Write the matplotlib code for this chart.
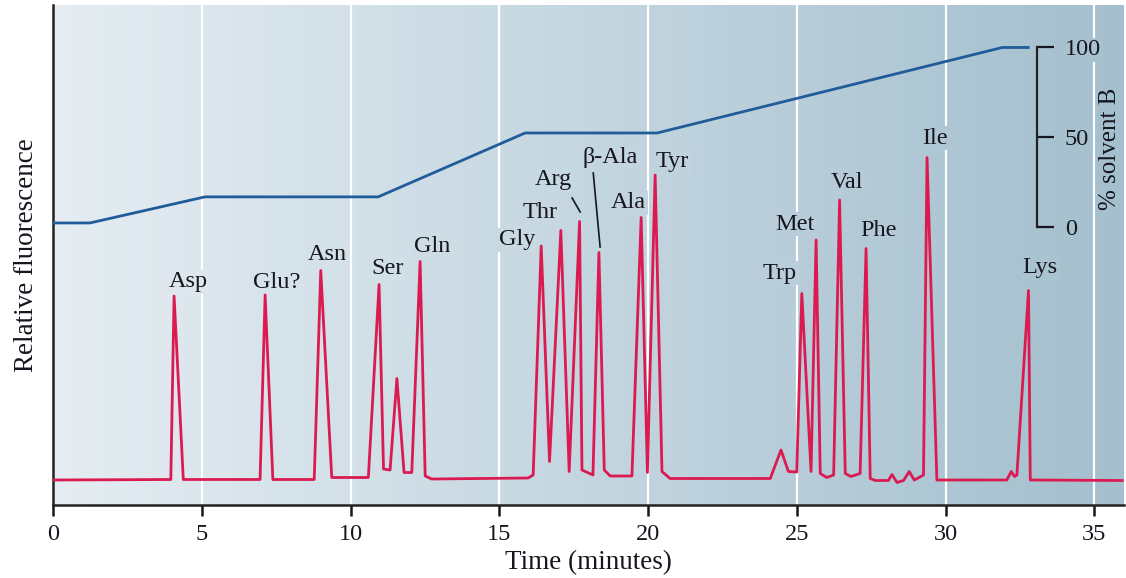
import numpy as np
import matplotlib.pyplot as plt
from matplotlib.colors import LinearSegmentedColormap

plt.rcParams['font.family'] = ['Liberation Serif', 'DejaVu Serif']

# fluorescence trace (minutes, arbitrary units)
trace_time = [0, 3.96, 4.07, 4.38, 6.96, 7.13, 7.39, 8.78, 9.00, 9.37,
              10.60, 10.96, 11.11, 11.33, 11.56, 11.80, 12.06, 12.34, 12.51, 12.73,
              15.97, 16.14, 16.41, 16.69, 17.07, 17.35, 17.70, 17.78, 18.15, 18.35,
              18.53, 18.73, 19.46, 19.77, 19.98, 20.24, 20.47, 20.74, 24.11, 24.47,
              24.72, 25.00, 25.17, 25.48, 25.65, 25.79, 26.01, 26.24, 26.44, 26.63,
              26.82, 27.13, 27.33, 27.47, 27.64, 28.08, 28.20, 28.37, 28.59, 28.78,
              28.95, 29.26, 29.38, 29.71, 32.06, 32.21, 32.32, 32.40, 32.79, 32.85,
              35.94]
trace_signal = [0, 0.1, 36.8, 0.1, 0.1, 37.0, 0.1, 0.1, 41.9, 0.5,
                0.5, 39.1, 2.2, 2.0, 20.3, 1.5, 1.5, 43.7, 0.8, 0.2,
                0.4, 1.0, 46.8, 3.7, 49.9, 1.7, 51.7, 2.0, 1.0, 45.5,
                2.0, 0.8, 0.8, 52.5, 1.5, 61.0, 1.7, 0.3, 0.3, 6.0,
                1.7, 1.6, 37.3, 1.7, 48.0, 1.3, 0.5, 1.0, 56.0, 1.3,
                0.7, 1.3, 46.3, 0.3, -0.1, -0.1, 1.1, -0.5, -0.1, 1.7,
                0.0, 1.0, 64.5, 0.0, 0.0, 1.7, 0.7, 1.0, 37.9, 0.0,
                -0.1]

# solvent B gradient program
solvent_time = [0, 1.24, 5.11, 10.93, 15.87, 20.31, 31.91, 32.78]
solvent_pct = [2.5, 2.5, 17, 17, 52.5, 52.5, 100, 100]

# peak names and where their labels sit
peak_names = ['Asp', 'Glu?', 'Asn', 'Ser', 'Gln', 'Gly', 'Thr', 'Arg', 'β-Ala',
              'Ala', 'Tyr', 'Trp', 'Met', 'Val', 'Phe', 'Ile', 'Lys']
label_x = [4.54, 7.53, 9.21, 11.23, 12.74, 15.60, 16.37, 16.81, 18.73,
           19.33, 20.81, 24.41, 24.95, 26.70, 27.74, 29.65, 33.18]
label_y = [39.6, 39.6, 45.0, 42.4, 46.6, 48.0, 53.4, 60.0, 64.4,
           55.4, 63.6, 41.4, 51.2, 59.6, 50.0, 68.4, 42.4]

xmax = 36.0
text_col = '#16161f'
bg_cmap = LinearSegmentedColormap.from_list('bg', ['#e5edf2', '#c4d6e0', '#a4bfce'])

def bg_at(t):
    return bg_cmap(t / xmax)

fig = plt.figure(figsize=(11.26, 5.78), dpi=100)
ax = fig.add_axes([53 / 1126, 1 - 505 / 578, (1124 - 53) / 1126, 500 / 578])

# gradient background
ax.imshow(np.linspace(0, 1, 256).reshape(1, -1), extent=[0, xmax, -5, 95],
          aspect='auto', cmap=bg_cmap, zorder=0)

for t in range(5, 36, 5):
    ax.axvline(t, color='white', lw=1.6, zorder=1)

ax.plot(trace_time, trace_signal, color='#dc1a52', lw=2.0, zorder=3)

for name, x, y in zip(peak_names, label_x, label_y):
    ax.text(x, y, name, ha='center', va='center', fontsize=17.5, color=text_col,
            zorder=2, bbox=dict(boxstyle='square,pad=0.08', fc=bg_at(x), ec='none'))

# leader lines for Arg and beta-Ala
ax.plot([17.45, 17.72], [56.4, 53.6], color=text_col, lw=1.2, zorder=3)
ax.plot([18.16, 18.39], [61.4, 46.6], color=text_col, lw=1.2, zorder=3)

ax.set_xlim(0, xmax)
ax.set_ylim(-5, 95)
ax.set_yticks([])
ax.set_xticks(range(0, 36, 5))
ax.tick_params(axis='x', direction='out', length=8, width=1.8, pad=6,
               labelsize=17.5, colors=text_col)
for side in ['top', 'right']:
    ax.spines[side].set_visible(False)
for side in ['left', 'bottom']:
    ax.spines[side].set_linewidth(1.8)
    ax.spines[side].set_color('#222222')
ax.set_xlabel('Time (minutes)', fontsize=19.5, color=text_col, labelpad=3)
ax.set_ylabel('Relative fluorescence', fontsize=19.5, color=text_col, labelpad=10)

# solvent B on its own scale, drawn inside the plot
ax2 = ax.twinx()
ax2.plot(solvent_time, solvent_pct, color='#1f5c99', lw=2.0)
ax2.set_ylim(-154.2, 123.6)
for side in ['top', 'left', 'bottom']:
    ax2.spines[side].set_visible(False)
ax2.spines['right'].set_position(('data', 33.08))
ax2.spines['right'].set_bounds(0, 100)
ax2.spines['right'].set_linewidth(1.6)
ax2.spines['right'].set_color('#222222')
ax2.set_yticks([0, 50, 100])
ax2.tick_params(axis='y', direction='out', length=12, width=1.6, pad=8,
                labelsize=17.5, colors=text_col)
for lbl in ax2.get_yticklabels():
    lbl.set_bbox(dict(boxstyle='square,pad=0.08', fc=bg_at(34.5), ec='none'))

fig.text(1110 / 1126, 1 - 149 / 578, '% solvent B', rotation=90, ha='center',
         va='center', fontsize=18, color=text_col)

fig.savefig('out.png', dpi=100)
